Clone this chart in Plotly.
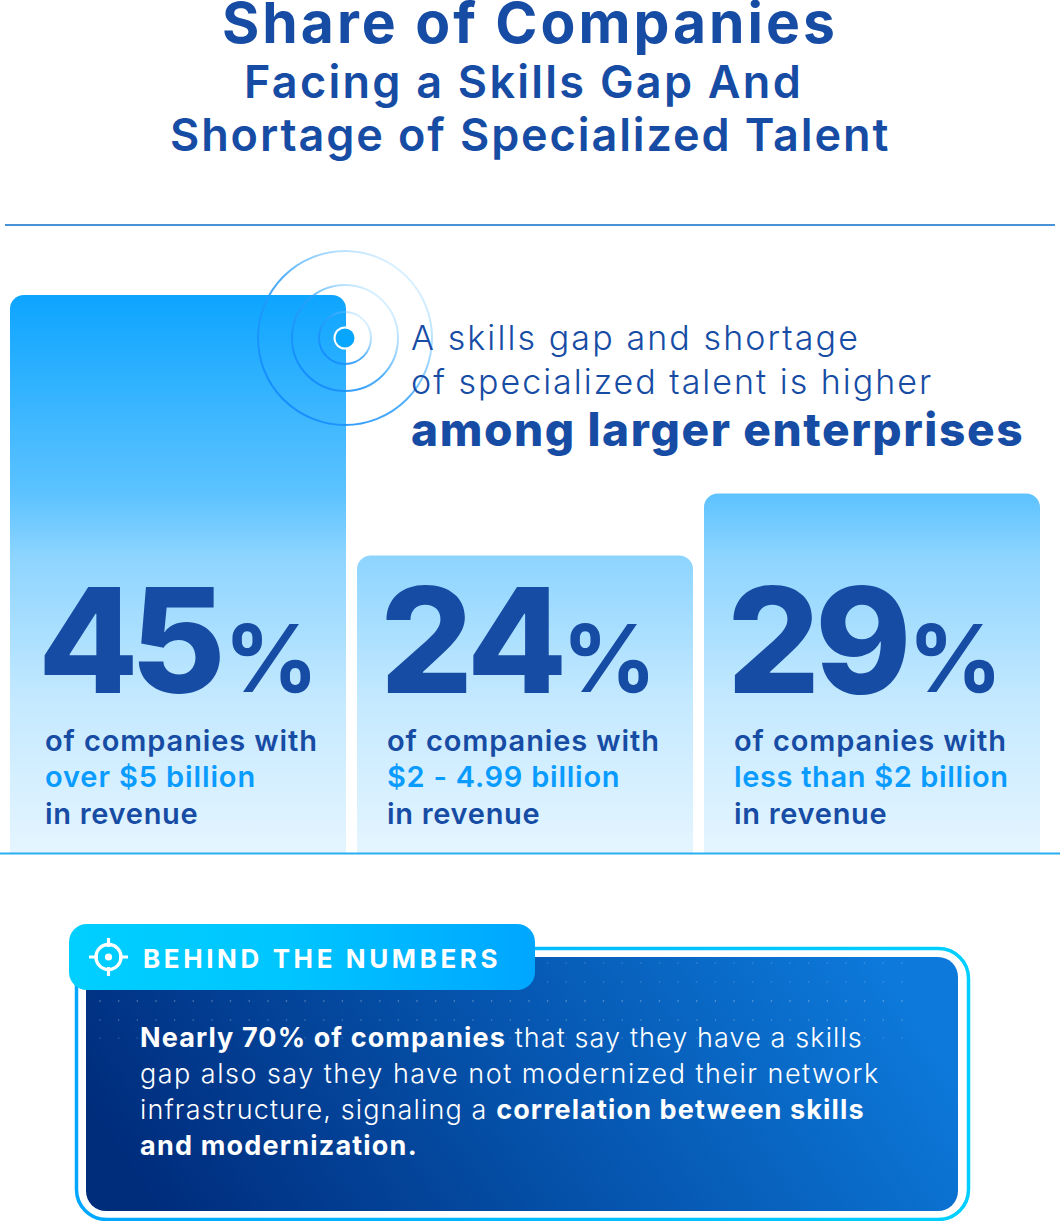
import base64
import plotly.graph_objects as go

W, H = 1061, 1221
FONT = "Inter"
NAVY = "#174CA5"
SKY = "#0A9BFF"

categories = ["over $5 billion", "$2 - 4.99 billion", "less than $2 billion"]
shares = [45, 24, 29]
value_labels = ["45", "24", "29"]
title_lines = ["Share of Companies", "Facing a Skills Gap And", "Shortage of Specialized Talent"]
callout_lines = ["A skills gap and shortage", "of specialized talent is higher"]
callout_bold = "among larger enterprises"
body_lines = [
    "<b>Nearly 70% of companies</b> that say they have a skills",
    "gap also say they have not modernized their network",
    "infrastructure, signaling a <b>correlation between skills</b>",
    "<b>and modernization.</b>",
]

dots = "".join(
    f'<circle cx="{100 + 18.65 * i:.1f}" cy="{y}" r="0.8" fill="#fff" opacity="{o}"/>'
    for y, o in ((963, .22), (982, .22), (1001, .4), (1020, .3), (1038, .22))
    for i in range(44)
)
rings = "".join(
    f'<circle cx="345" cy="338" r="{r}" fill="none" stroke="url(#ring)" stroke-width="2"/>' for r in (87, 53, 26)
)
svg = f'''<svg xmlns="http://www.w3.org/2000/svg" width="{W}" height="{H}" viewBox="0 0 {W} {H}">
<defs>
<linearGradient id="fade" x1="0" y1="0" x2="0" y2="1">
<stop offset="0" stop-color="#fff" stop-opacity="0"/>
<stop offset="0.357" stop-color="#fff" stop-opacity="0.33"/>
<stop offset="0.47" stop-color="#fff" stop-opacity="0.53"/>
<stop offset="0.73" stop-color="#fff" stop-opacity="0.76"/>
<stop offset="1" stop-color="#fff" stop-opacity="0.89"/>
</linearGradient>
<linearGradient id="ring" x1="0" y1="1" x2="1" y2="0">
<stop offset="0" stop-color="#0A85FF"/>
<stop offset="0.5" stop-color="#2A9DF8" stop-opacity="0.8"/>
<stop offset="0.85" stop-color="#7CCBFF" stop-opacity="0.3"/>
<stop offset="1" stop-color="#7CCBFF" stop-opacity="0.05"/>
</linearGradient>
<linearGradient id="box" x1="0" y1="0.6" x2="1" y2="0.4">
<stop offset="0" stop-color="#002C7C"/>
<stop offset="0.5" stop-color="#0553AC"/>
<stop offset="1" stop-color="#0D7ADB"/>
</linearGradient>
<linearGradient id="edge" x1="0" y1="0" x2="1" y2="0">
<stop offset="0" stop-color="#00A6FF"/>
<stop offset="1" stop-color="#00CFFF"/>
</linearGradient>
<linearGradient id="tab" x1="0" y1="0" x2="1" y2="0">
<stop offset="0" stop-color="#00CFFF"/>
<stop offset="0.45" stop-color="#00C6FF"/>
<stop offset="1" stop-color="#00A6FF"/>
</linearGradient>
</defs>
<rect x="0" y="295" width="{W}" height="558" fill="url(#fade)"/>
{rings}
<circle cx="345" cy="338" r="11.5" fill="#fff"/>
<circle cx="345" cy="338" r="9.5" fill="#06A6FF"/>
<rect x="76.5" y="948.5" width="892" height="271" rx="30" fill="#fff" stroke="url(#edge)" stroke-width="3.5"/>
<rect x="86" y="957" width="872" height="254" rx="20" fill="url(#box)"/>
{dots}
<rect x="69" y="924" width="466" height="66" rx="18" fill="url(#tab)"/>
<circle cx="108.5" cy="957" r="12.5" fill="none" stroke="#fff" stroke-width="3.4"/>
<circle cx="108.5" cy="957" r="3.6" fill="#fff"/>
<path d="M108.5 938v9M108.5 967v9M89 957h9M119 957h9" stroke="#fff" stroke-width="3.2"/>
</svg>'''
overlay = "data:image/svg+xml;base64," + base64.b64encode(svg.encode()).decode()

fig = go.Figure(
    go.Bar(x=categories, y=shares, marker=dict(color="#0DA5FF", line=dict(width=0)), hoverinfo="skip")
)

ann = []


def txt(s, x, y, size, color=NAVY, weight=400, anchor="left", sp=0):
    if sp:
        s = f'<span style="letter-spacing:{sp}px">{s}</span>'
    ann.append(dict(
        text=s, x=x / W, y=1 - y / H, xref="paper", yref="paper", xanchor=anchor, yanchor="middle",
        showarrow=False, align=anchor, font=dict(family=FONT, size=size, color=color, weight=weight),
    ))


txt(title_lines[0], 530, 23, 57, weight=700, anchor="center", sp=3.0)
txt(title_lines[1], 523, 81, 45, weight=600, anchor="center", sp=2.25)
txt(title_lines[2], 530, 135, 45, weight=600, anchor="center", sp=1.9)
txt(callout_lines[0], 409, 337, 34, weight=350, sp=2.1)
txt(callout_lines[1], 409, 381, 34, weight=350, sp=2.0)
txt(callout_bold, 409, 429, 46, weight=800, sp=1.6)

big_x = [36, 378, 725]
big_sp = [-8, -4, -5]
pct_x = [222, 560, 906]
text_x = [43, 385, 732]
cat_sp = [0.88, 0.75, 0.65]
for i, (val, cat) in enumerate(zip(value_labels, categories)):
    txt(val, big_x[i], 640, 146, weight=800, sp=big_sp[i])
    txt("%", pct_x[i], 658, 93, weight=700)
    txt("of companies with", text_x[i], 740, 29, weight=600, sp=0.9)
    txt(cat, text_x[i], 776, 29, color=SKY, weight=600, sp=cat_sp[i])
    txt("in revenue", text_x[i], 813, 29, weight=600, sp=0.7)

txt("BEHIND THE NUMBERS", 141, 958, 26, color="#FFFFFF", weight=700, sp=3.6)
body_sp = [1.1, 1.48, 1.12, 1.2]
for j, line in enumerate(body_lines):
    txt(line, 138, 1037 + 36 * j, 27, color="#FFFFFF", weight=350, sp=body_sp[j])

fig.update_layout(
    width=W, height=H, margin=dict(l=0, r=0, t=0, b=0),
    paper_bgcolor="#FFFFFF", plot_bgcolor="#FFFFFF", showlegend=False,
    bargap=11 / 347, barcornerradius=14,
    xaxis=dict(visible=False, range=[-178 / 347, (W - 178) / 347], fixedrange=True),
    yaxis=dict(visible=False, range=[-(H - 853) / 12.4, 853 / 12.4], fixedrange=True),
    annotations=ann,
    images=[dict(source=overlay, xref="paper", yref="paper", x=0, y=1, sizex=1, sizey=1,
                 xanchor="left", yanchor="top", sizing="stretch", layer="above")],
    shapes=[
        dict(type="line", xref="paper", yref="paper", x0=5 / W, x1=1055 / W, y0=1 - 225 / H, y1=1 - 225 / H,
             line=dict(color="#4A92D6", width=2)),
        dict(type="line", xref="paper", yref="paper", x0=0, x1=1060 / W, y0=1 - 853.5 / H, y1=1 - 853.5 / H,
             line=dict(color="#2AAEF2", width=2)),
    ],
)
fig.write_html("out.html", post_script="document.body.style.margin='0';", config=dict(displayModeBar=False))
